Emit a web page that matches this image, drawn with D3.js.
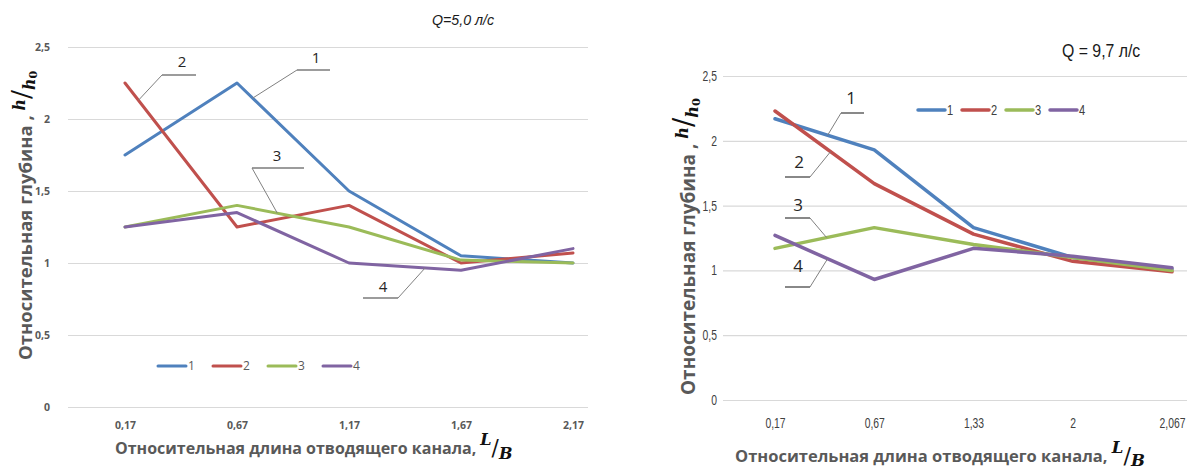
<!DOCTYPE html>
<html><head><meta charset="utf-8">
<script src="https://cdn.jsdelivr.net/npm/d3@7"></script>
<style>
body{margin:0;background:#fff}
svg{display:block}
</style>
</head><body>
<svg id="c" width="1187" height="471"></svg>
<script>
// Series names, colours and shared value axis
const seriesNames = ["1", "2", "3", "4"];
const seriesColors = ["#4f81bd", "#c0504d", "#9bbb59", "#8064a2"];
const yTicks = [0, 0.5, 1, 1.5, 2, 2.5];
const yTickLabels = ["0", "0,5", "1", "1,5", "2", "2,5"];

// Q = 5,0 л/с
const catsA = ["0,17", "0,67", "1,17", "1,67", "2,17"];
const a1 = [1.75, 2.25, 1.5, 1.05, 1.0];
const a2 = [2.25, 1.25, 1.4, 1.0, 1.07];
const a3 = [1.25, 1.4, 1.25, 1.02, 1.0];
const a4 = [1.25, 1.35, 1.0, 0.95, 1.1];

// Q = 9,7 л/с
const catsB = ["0,17", "0,67", "1,33", "2", "2,067"];
const b1 = [2.17, 1.93, 1.33, 1.1, 1.01];
const b2 = [2.23, 1.67, 1.28, 1.07, 0.99];
const b3 = [1.17, 1.33, 1.2, 1.1, 1.0];
const b4 = [1.27, 0.93, 1.17, 1.11, 1.02];

const svg = d3.select("#c");
const CAL = "'Open Sans', 'Noto Sans', sans-serif";
const ARIAL = "'Liberation Sans', Arial, sans-serif";
const MATH = "'DejaVu Serif', 'Liberation Serif', serif";

function drawChart(cfg) {
  const g = svg.append("g");
  const x = d3.scalePoint().domain(cfg.cats).range(cfg.xRange);
  const y = d3.scaleLinear().domain([0, 2.5]).range(cfg.yRange);

  // horizontal gridlines
  const grid = g.append("g")
    .attr("transform", `translate(${cfg.gridX[0]},0)`)
    .call(d3.axisRight(y).tickValues(yTicks).tickSize(cfg.gridX[1] - cfg.gridX[0]).tickFormat(""));
  grid.select(".domain").remove();
  grid.selectAll("line").attr("stroke", "#d9d9d9").attr("stroke-width", 1.2);

  // value labels
  const ya = g.append("g")
    .attr("transform", `translate(${cfg.yLabelX},0)`)
    .call(d3.axisLeft(y).tickValues(yTicks).tickSize(0).tickPadding(0)
      .tickFormat((d, i) => yTickLabels[i]));
  ya.select(".domain").remove();
  ya.selectAll("text").attr("font-family", cfg.tickFont).attr("font-size", cfg.tickSize)
    .attr("font-weight", cfg.tickWeight).attr("fill", cfg.tickColor)
    .attr("transform", `scale(${cfg.tickScaleX},1)`);

  // category labels
  const xa = g.append("g")
    .attr("transform", `translate(0,${cfg.xLabelY})`)
    .call(d3.axisBottom(x).tickSize(0).tickPadding(0));
  xa.select(".domain").remove();
  xa.selectAll("text").attr("dy", "0.35em").attr("font-family", cfg.tickFont)
    .attr("font-size", cfg.tickSize).attr("font-weight", cfg.tickWeight).attr("fill", cfg.tickColor)
    .attr("transform", `scale(${cfg.tickScaleX},1)`);

  // series lines
  const line = d3.line().x((d, i) => x(cfg.cats[i])).y(d => y(d));
  g.selectAll("path.series").data(cfg.series).join("path")
    .attr("class", "series")
    .attr("d", line)
    .attr("fill", "none")
    .attr("stroke", (d, i) => seriesColors[i])
    .attr("stroke-width", cfg.lineWidth)
    .attr("stroke-linejoin", "round")
    .attr("stroke-linecap", "round");

  // callouts: label, short shelf and leader to a point on a series segment
  cfg.callouts.forEach(c => {
    const s = cfg.series[c.s];
    const x0 = x(cfg.cats[c.seg]), x1 = x(cfg.cats[c.seg + 1]);
    const tx = x0 + (x1 - x0) * c.t;
    const ty = y(s[c.seg]) + (y(s[c.seg + 1]) - y(s[c.seg])) * c.t;
    g.append("line").attr("x1", c.shelf[0]).attr("x2", c.shelf[1])
      .attr("y1", c.shelfY).attr("y2", c.shelfY)
      .attr("stroke", "#3a3a3a").attr("stroke-width", 1.2);
    const fx = c.from === "left" ? c.shelf[0] : c.shelf[1];
    g.append("line").attr("x1", fx).attr("y1", c.shelfY).attr("x2", tx).attr("y2", ty)
      .attr("stroke", "#808080").attr("stroke-width", 1);
    g.append("text").attr("x", c.lx).attr("y", c.ly).attr("text-anchor", "middle")
      .attr("font-family", cfg.calloutFont).attr("font-size", cfg.calloutSize)
      .attr("fill", "#262626").text(seriesNames[c.s]);
  });

  // legend
  const lg = g.append("g");
  seriesNames.forEach((n, i) => {
    const lx = cfg.legend.x + i * cfg.legend.step;
    lg.append("line").attr("x1", lx).attr("x2", lx + cfg.legend.len)
      .attr("y1", cfg.legend.y).attr("y2", cfg.legend.y)
      .attr("stroke", seriesColors[i]).attr("stroke-width", cfg.legend.w).attr("stroke-linecap", "round");
    lg.append("text")
      .attr("transform", `translate(${lx + cfg.legend.len + 2},${cfg.legend.y}) scale(${cfg.legend.scaleX},1)`)
      .attr("dy", "0.35em")
      .attr("font-family", cfg.legend.font).attr("font-size", cfg.legend.size)
      .attr("fill", cfg.legend.color).text(n);
  });

  // chart title
  g.append("text")
    .attr("transform", `translate(${cfg.title.x},${cfg.title.y}) scale(${cfg.title.scaleX},1)`)
    .attr("font-family", ARIAL).attr("font-size", cfg.title.size)
    .attr("font-style", cfg.title.italic ? "italic" : "normal")
    .attr("fill", "#1a1a1a").text(cfg.title.text);

  // value axis title with h/h0
  const ys = cfg.yTitle.size;
  const yt = g.append("text")
    .attr("transform", `translate(${cfg.yTitle.x},${cfg.yTitle.y}) rotate(-90)`)
    .attr("font-family", CAL).attr("font-weight", 700).attr("font-size", ys)
    .attr("fill", "#595959");
  yt.append("tspan").text("Относительная глубина , ");
  yt.append("tspan").attr("font-family", MATH).attr("font-style", "italic").attr("font-size", ys * 0.85)
    .attr("fill", "#111").attr("dy", -7).text("h");
  yt.append("tspan").attr("font-family", MATH).attr("font-weight", 400).attr("font-size", ys * 1.45)
    .attr("fill", "#111").attr("dy", 5).text("/");
  yt.append("tspan").attr("font-family", MATH).attr("font-style", "italic").attr("font-size", ys * 0.85)
    .attr("fill", "#111").attr("dy", 5).text("h");
  yt.append("tspan").attr("font-family", MATH).attr("font-size", ys * 0.6)
    .attr("fill", "#111").attr("dy", 2).text("0");

  // category axis title with L/B
  const xs = cfg.xTitle.size;
  const xt = g.append("text").attr("x", cfg.xTitle.x).attr("y", cfg.xTitle.y)
    .attr("font-family", CAL).attr("font-weight", 700).attr("font-size", xs)
    .attr("fill", "#595959");
  xt.append("tspan").text("Относительная длина отводящего канала, ");
  xt.append("tspan").attr("font-family", MATH).attr("font-style", "italic").attr("font-size", xs * 1.0)
    .attr("fill", "#111").attr("dy", -9).text("L");
  xt.append("tspan").attr("font-family", MATH).attr("font-weight", 400).attr("font-size", xs * 1.35)
    .attr("fill", "#111").attr("dy", 10).text("/");
  xt.append("tspan").attr("font-family", MATH).attr("font-style", "italic").attr("font-size", xs * 1.0)
    .attr("fill", "#111").attr("dy", cfg.xTitle.subDy).text("B");
}

drawChart({
  cats: catsA,
  series: [a1, a2, a3, a4],
  xRange: [125, 573],
  yRange: [407, 47],
  gridX: [68, 588],
  yLabelX: 50,
  xLabelY: 425,
  tickFont: CAL, tickSize: 10.5, tickWeight: 700, tickColor: "#595959", tickScaleX: 1,
  lineWidth: 3,
  calloutFont: CAL, calloutSize: 15,
  callouts: [
    {s: 1, seg: 0, t: 0.12, shelf: [162, 196], shelfY: 75, from: "left", lx: 182, ly: 67},
    {s: 0, seg: 1, t: 0.14, shelf: [297, 330], shelfY: 70, from: "left", lx: 316, ly: 63},
    {s: 2, seg: 1, t: 0.36, shelf: [252, 304], shelfY: 168, from: "left", lx: 277, ly: 161},
    {s: 3, seg: 2, t: 0.68, shelf: [363, 398], shelfY: 298, from: "right", lx: 383, ly: 292}
  ],
  legend: {x: 158, y: 366, step: 55, len: 28, w: 3, font: CAL, size: 12, color: "#595959", scaleX: 1},
  title: {text: "Q=5,0 л/с", x: 432, y: 25, size: 14.5, italic: true, scaleX: 0.98},
  yTitle: {x: 32, y: 360, size: 18.5},
  xTitle: {x: 115, y: 454, size: 16, subDy: 4}
});

drawChart({
  cats: catsB,
  series: [b1, b2, b3, b4],
  xRange: [775, 1172],
  yRange: [400, 76],
  gridX: [723, 1187],
  yLabelX: 717,
  xLabelY: 423,
  tickFont: ARIAL, tickSize: 14, tickWeight: 400, tickColor: "#404040", tickScaleX: 0.74,
  lineWidth: 3.5,
  calloutFont: CAL, calloutSize: 17,
  callouts: [
    {s: 0, seg: 0, t: 0.53, shelf: [841, 864], shelfY: 113, from: "left", lx: 851, ly: 104},
    {s: 1, seg: 0, t: 0.56, shelf: [785, 810], shelfY: 177, from: "right", lx: 799, ly: 168},
    {s: 2, seg: 0, t: 0.52, shelf: [785, 810], shelfY: 218, from: "right", lx: 798, ly: 211},
    {s: 3, seg: 0, t: 0.53, shelf: [785, 810], shelfY: 287, from: "right", lx: 798, ly: 272}
  ],
  legend: {x: 918, y: 110, step: 44, len: 27, w: 3.5, font: ARIAL, size: 15, color: "#404040", scaleX: 0.74},
  title: {text: "Q = 9,7 л/с", x: 1062, y: 57, size: 18, italic: false, scaleX: 0.88},
  yTitle: {x: 695, y: 395, size: 19},
  xTitle: {x: 735, y: 462, size: 16.5, subDy: 3}
});
</script>
</body></html>
